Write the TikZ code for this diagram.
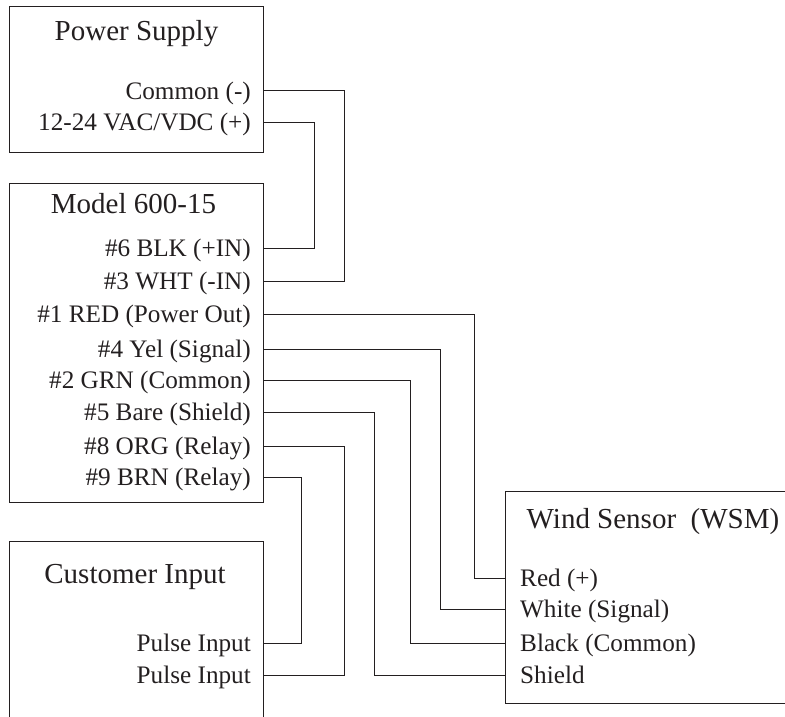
\documentclass[tikz,border=0pt]{standalone}
\usepackage{fontspec}
\setmainfont{Liberation Serif}
\usepackage{xcolor}
\definecolor{ink}{HTML}{231F20}
\begin{document}
\begin{tikzpicture}[
    x=1pt, y=-1pt,
    box/.style={rectangle, draw=ink, line width=1pt, inner sep=0pt, minimum width=254pt, anchor=north west},
    title/.style={text=ink, inner sep=0pt, anchor=base, font=\fontsize{29}{33}\selectfont},
    lblout/.style={text=ink, inner ysep=0pt, inner xsep=12pt, text height=17pt, text depth=0pt, anchor=east, font=\fontsize{25.2}{30}\selectfont},
    lblin/.style={lblout, inner xsep=15pt, anchor=west},
    wire/.style={ink, line width=1pt}
]
    \useasboundingbox (0,0) rectangle (785,717);

    \node[box, minimum height=146pt] (psu) at (9,6) {};
    \node[box, minimum height=319pt] (model) at (9,183) {};
    \node[box, minimum height=190pt] (cust) at (9,541) {};
    \node[box, minimum width=300pt, minimum height=212pt] (wsm) at (505,491) {};

    \node[title] (psutitle) at (136.5,41) {Power Supply};
    \node[title] (modeltitle) at (133.5,213) {Model 600-15};
    \node[title] (custtitle) at (135,583) {Customer Input};
    \node[title] (wsmtitle) at (653,528) {Wind Sensor~ (WSM)};

    \node[lblout] (common) at (263,91) {Common (-)};
    \node[lblout] (vac) at (263,122) {12-24 VAC/VDC (+)};

    \node[lblout] (blk) at (263,248) {\#6 BLK (+IN)};
    \node[lblout] (wht) at (263,281) {\#3 WHT (-IN)};
    \node[lblout] (red) at (263,314) {\#1 RED (Power Out)};
    \node[lblout] (yel) at (263,349) {\#4 Yel (Signal)};
    \node[lblout] (grn) at (263,380) {\#2 GRN (Common)};
    \node[lblout] (bare) at (263,412) {\#5 Bare (Shield)};
    \node[lblout] (org) at (263,446) {\#8 ORG (Relay)};
    \node[lblout] (brn) at (263,477) {\#9 BRN (Relay)};

    \node[lblout] (pulsea) at (263,643) {Pulse Input};
    \node[lblout] (pulseb) at (263,675) {Pulse Input};

    \node[lblin] (wsmred) at (505,578) {Red (+)};
    \node[lblin] (wsmwhite) at (505,609) {White (Signal)};
    \node[lblin] (wsmblack) at (505,643) {Black (Common)};
    \node[lblin] (wsmshield) at (505,675) {Shield};

    \draw[wire] (common.east) -- ++(81,0) |- (wht.east);
    \draw[wire] (vac.east) -- ++(51,0) |- (blk.east);
    \draw[wire] (red.east) -- ++(211,0) |- (wsmred.west);
    \draw[wire] (yel.east) -- ++(177,0) |- (wsmwhite.west);
    \draw[wire] (grn.east) -- ++(147,0) |- (wsmblack.west);
    \draw[wire] (bare.east) -- ++(111,0) |- (wsmshield.west);
    \draw[wire] (org.east) -- ++(81,0) |- (pulseb.east);
    \draw[wire] (brn.east) -- ++(38,0) |- (pulsea.east);
\end{tikzpicture}
\end{document}
